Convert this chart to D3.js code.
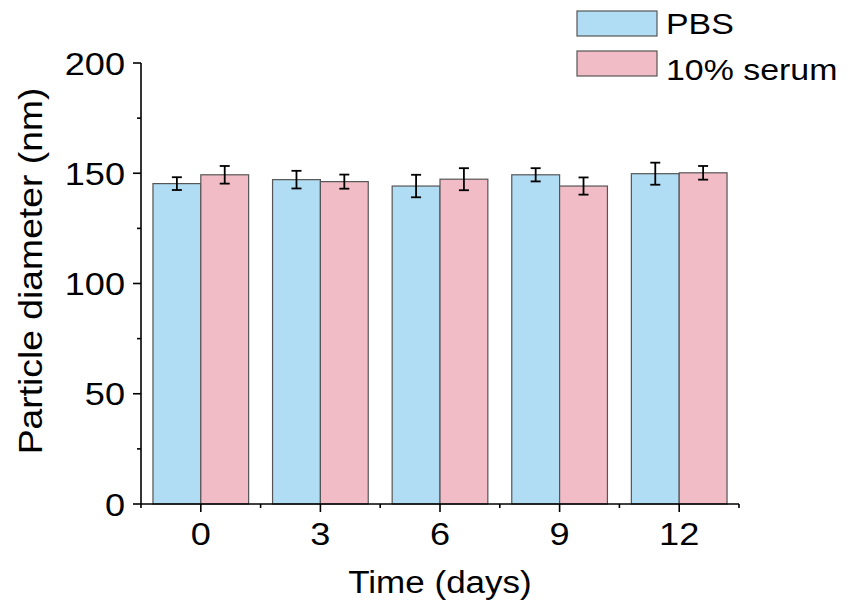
<!DOCTYPE html>
<html>
<head>
<meta charset="utf-8">
<script src="https://cdn.jsdelivr.net/npm/d3@7"></script>
<style>
  body { margin: 0; background: #fff; }
  svg { font-family: "Liberation Sans", Arial, sans-serif; }
</style>
</head>
<body>
<div id="chart"></div>
<script>
const days = ['0', '3', '6', '9', '12']
const series = ['PBS', '10% serum']
const pbsMean = [145.3, 147.1, 144.2, 149.3, 149.8]
const pbsErr = [2.9, 4.0, 5.1, 3.0, 5.0]
const serumMean = [149.3, 146.2, 147.3, 144.2, 150.2]
const serumErr = [4.0, 3.2, 5.0, 3.9, 3.1]
const yTicks = [0, 50, 100, 150, 200]

const colors = ['#b0ddf3', '#f2bcc6']
const width = 850
const height = 610
const stretch = 1.13

const svg = d3.select('#chart')
  .append('svg')
  .attr('width', width)
  .attr('height', height)

const x = d3.scaleBand()
  .domain(days)
  .range([141, 739])
  .paddingInner(0.2)
  .paddingOuter(0.1)

const xSub = d3.scaleBand()
  .domain(series)
  .range([0, x.bandwidth()])

const y = d3.scaleLinear()
  .domain([0, 200])
  .range([504, 63])

const rows = days.flatMap((d, i) => [
  {day: d, key: series[0], v: pbsMean[i], e: pbsErr[i]},
  {day: d, key: series[1], v: serumMean[i], e: serumErr[i]}
])

// stretched text, the original figure is wider than tall
const label = (g, tx, ty, txt, size, anchor, rot) => g.append('text')
  .attr('transform', `translate(${tx},${ty}) rotate(${rot || 0}) scale(${stretch},1)`)
  .attr('text-anchor', anchor)
  .attr('font-size', size)
  .attr('fill', '#000')
  .text(txt)

// bars
svg.append('g')
  .selectAll('rect')
  .data(rows)
  .join('rect')
  .attr('x', d => x(d.day) + xSub(d.key))
  .attr('y', d => y(d.v))
  .attr('width', xSub.bandwidth())
  .attr('height', d => y(0) - y(d.v))
  .attr('fill', d => colors[series.indexOf(d.key)])
  .attr('stroke', '#555')
  .attr('stroke-width', 1.2)

// error bars
const err = svg.append('g')
  .attr('stroke', '#000')
  .attr('stroke-width', 1.8)
  .selectAll('g')
  .data(rows)
  .join('g')
  .attr('transform', d => `translate(${x(d.day) + xSub(d.key) + xSub.bandwidth() / 2},0)`)

err.append('line')
  .attr('y1', d => y(d.v + d.e))
  .attr('y2', d => y(d.v - d.e))
err.append('line')
  .attr('x1', -5).attr('x2', 5)
  .attr('y1', d => y(d.v + d.e)).attr('y2', d => y(d.v + d.e))
err.append('line')
  .attr('x1', -5).attr('x2', 5)
  .attr('y1', d => y(d.v - d.e)).attr('y2', d => y(d.v - d.e))

// axes
const axes = svg.append('g')
  .attr('stroke', '#000')
  .attr('stroke-width', 1.6)

axes.append('line')
  .attr('x1', x.range()[0]).attr('x2', x.range()[0])
  .attr('y1', y(0)).attr('y2', y(200))
axes.append('line')
  .attr('x1', x.range()[0]).attr('x2', x.range()[1])
  .attr('y1', y(0)).attr('y2', y(0))

axes.selectAll('.ymaj')
  .data(yTicks)
  .join('line')
  .attr('x1', x.range()[0] - 8).attr('x2', x.range()[0])
  .attr('y1', d => y(d)).attr('y2', d => y(d))
axes.selectAll('.ymin')
  .data(yTicks.slice(0, -1).map(v => v + 25))
  .join('line')
  .attr('x1', x.range()[0] - 4).attr('x2', x.range()[0])
  .attr('y1', d => y(d)).attr('y2', d => y(d))

axes.selectAll('.xmaj')
  .data(days)
  .join('line')
  .attr('x1', d => x(d) + x.bandwidth() / 2).attr('x2', d => x(d) + x.bandwidth() / 2)
  .attr('y1', y(0)).attr('y2', y(0) + 8)

const step = x.step()
axes.selectAll('.xmin')
  .data(d3.range(days.length + 1))
  .join('line')
  .attr('x1', i => x.range()[0] + i * step).attr('x2', i => x.range()[0] + i * step)
  .attr('y1', y(0)).attr('y2', y(0) + 4)

// tick labels
const txt = svg.append('g')
yTicks.forEach(t => label(txt, 125, y(t) + 11.5, t, 32, 'end'))
days.forEach(d => label(txt, x(d) + x.bandwidth() / 2, 545, d, 32, 'middle'))

// axis titles
label(txt, 440, 593, 'Time (days)', 31, 'middle')
label(txt, 42, 271, 'Particle diameter (nm)', 33, 'middle', -90)

// legend
const legend = svg.append('g')
series.forEach((s, i) => {
  legend.append('rect')
    .attr('x', 577)
    .attr('y', 11 + i * 40)
    .attr('width', 80)
    .attr('height', 25)
    .attr('fill', colors[i])
    .attr('stroke', '#555')
    .attr('stroke-width', 1.2)
  label(legend, 666, 34 + i * 46, s, 30, 'start')
})
</script>
</body>
</html>
